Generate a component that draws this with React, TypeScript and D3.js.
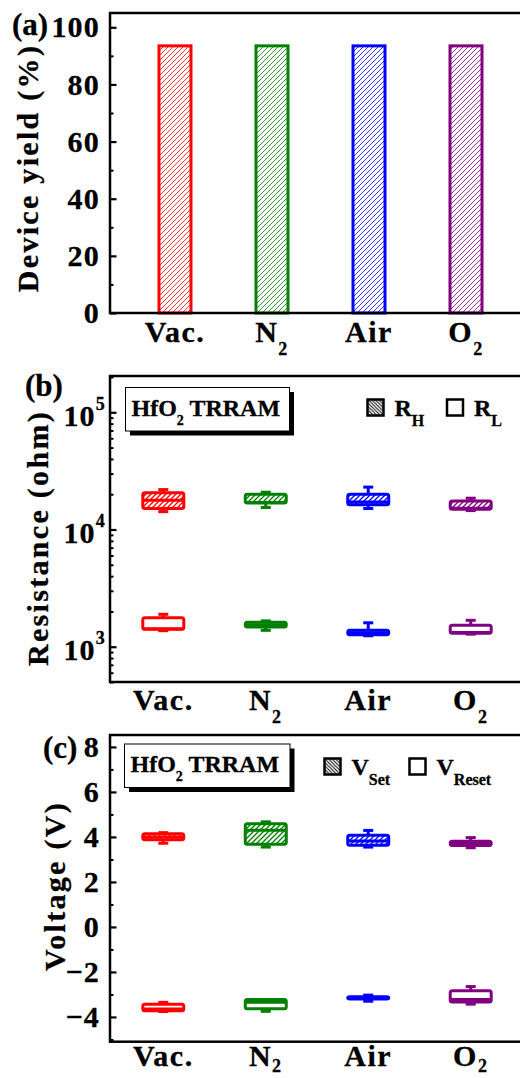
import React, { useRef, useEffect } from 'react';
import * as d3 from 'd3';

const categories = ['Vac.', 'N2', 'Air', 'O2'];
const catColors = ['#ff0000', '#008000', '#0000ff', '#800080'];

// (a) device yield (%)
const yieldPct = [93.5, 93.5, 93.5, 93.5];
const yieldTicks = [0, 20, 40, 60, 80, 100];
const yieldMinor = [10, 30, 50, 70, 90];

// box stats: [min, q1, median, q3, max]
const resHigh = [
  [14200, 15100, 17800, 20600, 21900],
  [15400, 16800, 17000, 20000, 20800],
  [15100, 16300, 17200, 20000, 23000],
  [14500, 14900, 15200, 17500, 18500],
];
const resLow = [
  [1370, 1410, 1420, 1770, 1890],
  [1380, 1470, 1540, 1620, 1660],
  [1240, 1265, 1315, 1380, 1600],
  [1280, 1300, 1320, 1525, 1680],
];
const resTicks = [1e3, 1e4, 1e5];

const vSet = [
  [3.72, 3.87, 4.0, 4.14, 4.19],
  [3.55, 3.68, 4.3, 4.59, 4.67],
  [3.55, 3.63, 3.82, 4.08, 4.29],
  [3.52, 3.62, 3.72, 3.81, 3.97],
];
const vReset = [
  [-3.76, -3.73, -3.65, -3.44, -3.35],
  [-3.75, -3.64, -3.35, -3.23, -3.23],
  [-3.3, -3.2, -3.15, -3.1, -3.03],
  [-3.43, -3.34, -3.23, -2.84, -2.65],
];
const voltTicks = [-4, -2, 0, 2, 4, 6, 8];
const voltMinor = [-5, -3, -1, 1, 3, 5, 7];

const FONT = '"Liberation Serif", "Times New Roman", serif';

const App = () => {
  const svgRef = useRef<SVGSVGElement>(null);

  useEffect(() => {
    const svg = d3.select(svgRef.current);
    svg.selectAll('*').remove();

    const defs = svg.append('defs');
    catColors.forEach((c, i) => {
      const p = defs.append('pattern').attr('id', `hatch${i}`)
        .attr('patternUnits', 'userSpaceOnUse').attr('width', 5).attr('height', 5);
      p.append('rect').attr('width', 5).attr('height', 5).attr('fill', '#fff');
      p.append('path').attr('d', 'M-1,1 l2,-2 M0,5 l5,-5 M4,6 l2,-2')
        .attr('stroke', c).attr('stroke-width', 1.3);
      const b = defs.append('pattern').attr('id', `barHatch${i}`)
        .attr('patternUnits', 'userSpaceOnUse').attr('width', 5).attr('height', 5);
      b.append('rect').attr('width', 5).attr('height', 5).attr('fill', '#fff');
      b.append('path').attr('d', 'M-1,1 l2,-2 M0,5 l5,-5 M4,6 l2,-2')
        .attr('stroke', c).attr('stroke-width', 0.8);
    });
    const lh = defs.append('pattern').attr('id', 'legHatch')
      .attr('patternUnits', 'userSpaceOnUse').attr('width', 3.5).attr('height', 3.5);
    lh.append('rect').attr('width', 3.5).attr('height', 3.5).attr('fill', '#fff');
    lh.append('path').attr('d', 'M-1,2.5 l2,2 M0,0 l3.5,3.5 M2.5,-1 l2,2')
      .attr('stroke', '#000').attr('stroke-width', 1);

    const boldText = (sel: any, size: number) =>
      sel.attr('font-family', FONT).attr('font-size', size).attr('font-weight', 'bold')
        .attr('fill', '#000').attr('stroke', '#000').attr('stroke-width', 0.3);

    const yAxis = (scale: any, left: number, major: number[], minor: number[], fmt: any) => {
      const mg = svg.append('g').attr('transform', `translate(${left},0)`)
        .call(d3.axisLeft(scale).tickValues(minor).tickSize(-3.5).tickFormat(() => ''));
      mg.select('.domain').remove();
      mg.selectAll('line').attr('stroke', '#000').attr('stroke-width', 2);
      const ax = svg.append('g').attr('transform', `translate(${left},0)`)
        .call(d3.axisLeft(scale).tickValues(major).tickSize(-6.5).tickPadding(10).tickFormat(fmt));
      ax.select('.domain').remove();
      ax.selectAll('line').attr('stroke', '#000').attr('stroke-width', 2.2);
      boldText(ax.selectAll('text'), 30).attr('letter-spacing', 1.2);
      return ax;
    };

    const catLabels = (x: any, baseline: number, subDy: number) => {
      categories.forEach((c) => {
        const m = c.match(/^([A-Za-z]+)(\d)$/);
        const t = boldText(svg.append('text'), 30)
          .attr('x', x(c)).attr('y', baseline).attr('text-anchor', 'middle').attr('letter-spacing', 1.5);
        if (m) {
          t.append('tspan').text(m[1]);
          t.append('tspan').attr('dy', subDy).attr('font-size', 18).text(m[2]);
        } else t.text(c);
      });
    };

    const yLabel = (txt: string, x: number, y: number) => {
      boldText(svg.append('text'), 30)
        .attr('transform', `translate(${x},${y}) rotate(-90)`)
        .attr('text-anchor', 'middle').attr('letter-spacing', 2.3).text(txt);
    };

    const frame = (left: number, top: number, bottom: number) => {
      svg.append('rect').attr('x', left).attr('y', top).attr('width', 600).attr('height', bottom - top)
        .attr('fill', 'none').attr('stroke', '#000').attr('stroke-width', 2.5);
    };

    const boxes = (x: any, y: any, stats: number[][], hatched: boolean) => {
      stats.forEach((s, i) => {
        const [mn, q1, md, q3, mx] = s;
        const cx = x(categories[i]);
        const g = svg.append('g').attr('stroke', catColors[i]).attr('stroke-width', 3);
        g.append('line').attr('x1', cx).attr('x2', cx).attr('y1', y(mx)).attr('y2', y(q3));
        g.append('line').attr('x1', cx).attr('x2', cx).attr('y1', y(q1)).attr('y2', y(mn));
        [mx, mn].forEach((v) => {
          g.append('line').attr('x1', cx - 5).attr('x2', cx + 5).attr('y1', y(v)).attr('y2', y(v));
        });
        g.append('rect').attr('x', cx - 20.5).attr('width', 41)
          .attr('y', y(q3)).attr('height', y(q1) - y(q3)).attr('rx', 2)
          .attr('fill', hatched ? `url(#hatch${i})` : '#fff');
        g.append('line').attr('x1', cx - 20.5).attr('x2', cx + 20.5).attr('y1', y(md)).attr('y2', y(md));
      });
    };

    const legendTitle = (x: number, y: number, w: number, h: number) => {
      svg.append('rect').attr('x', x + 4.5).attr('y', y + 4.5).attr('width', w).attr('height', h).attr('fill', '#000');
      svg.append('rect').attr('x', x).attr('y', y).attr('width', w).attr('height', h)
        .attr('fill', '#fff').attr('stroke', '#000').attr('stroke-width', 1);
      const t = boldText(svg.append('text'), 24).attr('x', x + 6).attr('y', y + 28);
      t.append('tspan').text('HfO');
      t.append('tspan').attr('dy', 9).attr('font-size', 14).text('2');
      t.append('tspan').attr('dy', -9).text(' TRRAM');
    };

    const legendItem = (x: number, y: number, hatched: boolean, main: string, sub: string) => {
      svg.append('rect').attr('x', x).attr('y', y).attr('width', 16).attr('height', 16)
        .attr('fill', hatched ? 'url(#legHatch)' : '#fff').attr('stroke', '#000').attr('stroke-width', 2.5);
      const t = boldText(svg.append('text'), 24).attr('x', x + 27).attr('y', y + 16.5);
      t.append('tspan').text(main);
      t.append('tspan').attr('dy', 10).attr('font-size', 16).text(sub);
    };

    const panelTag = (txt: string, x: number, y: number) => {
      boldText(svg.append('text'), 31).attr('x', x).attr('y', y).text(txt);
    };

    // ---- (a) device yield
    const aTop = 13, aBottom = 313, left = 110;
    const xA = d3.scalePoint<string>().domain(categories).range([left, 531]).padding(0.67);
    const yA = d3.scaleLinear().domain([0, 105]).range([aBottom, aTop]);
    svg.append('g').selectAll('rect').data(yieldPct).join('rect')
      .attr('x', (d, i) => (xA(categories[i]) as number) - 16).attr('width', 32)
      .attr('y', (d) => yA(d)).attr('height', (d) => yA(0) - yA(d))
      .attr('fill', (d, i) => `url(#barHatch${i})`)
      .attr('stroke', (d, i) => catColors[i]).attr('stroke-width', 3);
    frame(left, aTop, aBottom);
    yAxis(yA, left, yieldTicks, yieldMinor, d3.format('d'));
    catLabels(xA, 342, 13);
    yLabel('Device yield (%)', 38, 168);
    panelTag('(a)', 12, 35);

    // ---- (b) resistance
    const bTop = 376, bBottom = 682;
    const xB = d3.scalePoint<string>().domain(categories).range([left, 524]).padding(0.52);
    const yB = d3.scaleLog().domain([500, 2.04e5]).range([bBottom, bTop]);
    const logMinor: number[] = [];
    [100, 1000, 10000, 100000].forEach((dec) => {
      for (let k = 2; k <= 9; k++) {
        const v = k * dec;
        if (v >= 500 && v <= 2.04e5) logMinor.push(v);
      }
    });
    boxes(xB, yB, resHigh, true);
    boxes(xB, yB, resLow, false);
    frame(left, bTop, bBottom);
    const axB = yAxis(yB, left, resTicks, logMinor, () => '');
    axB.selectAll('text').each(function (d: any) {
      const t = d3.select(this).attr('dy', 13).attr('x', -4);
      t.append('tspan').text('10');
      t.append('tspan').attr('dy', -16).attr('font-size', 18).text(String(Math.round(Math.log10(d))));
    });
    catLabels(xB, 710, 13);
    yLabel('Resistance (ohm)', 48, 538);
    panelTag('(b)', 25, 396);
    legendTitle(125.5, 387.5, 164, 43.5);
    legendItem(367.5, 399.5, true, 'R', 'H');
    legendItem(447, 399.5, false, 'R', 'L');

    // ---- (c) voltage
    const cTop = 735, cBottom = 1041.7;
    const xC = d3.scalePoint<string>().domain(categories).range([left, 524]).padding(0.52);
    const yC = d3.scaleLinear().domain([-5.1, 8.53]).range([cBottom, cTop]);
    boxes(xC, yC, vSet, true);
    boxes(xC, yC, vReset, false);
    frame(left, cTop, cBottom);
    yAxis(yC, left, voltTicks, voltMinor, d3.format('d'));
    catLabels(xC, 1066, 6);
    yLabel('Voltage (V)', 65, 886);
    panelTag('(c)', 43, 758);
    legendTitle(124.5, 744, 165.5, 43.5);
    legendItem(324.5, 758.5, true, 'V', 'Set');
    legendItem(409.5, 758.5, false, 'V', 'Reset');
  }, []);

  return (
    <div style={{ position: 'absolute', left: 0, top: 0, width: 520, height: 1078, overflow: 'hidden', background: '#fff' }}>
      <svg ref={svgRef} width={520} height={1078} style={{ display: 'block' }} />
    </div>
  );
};

export default App;
